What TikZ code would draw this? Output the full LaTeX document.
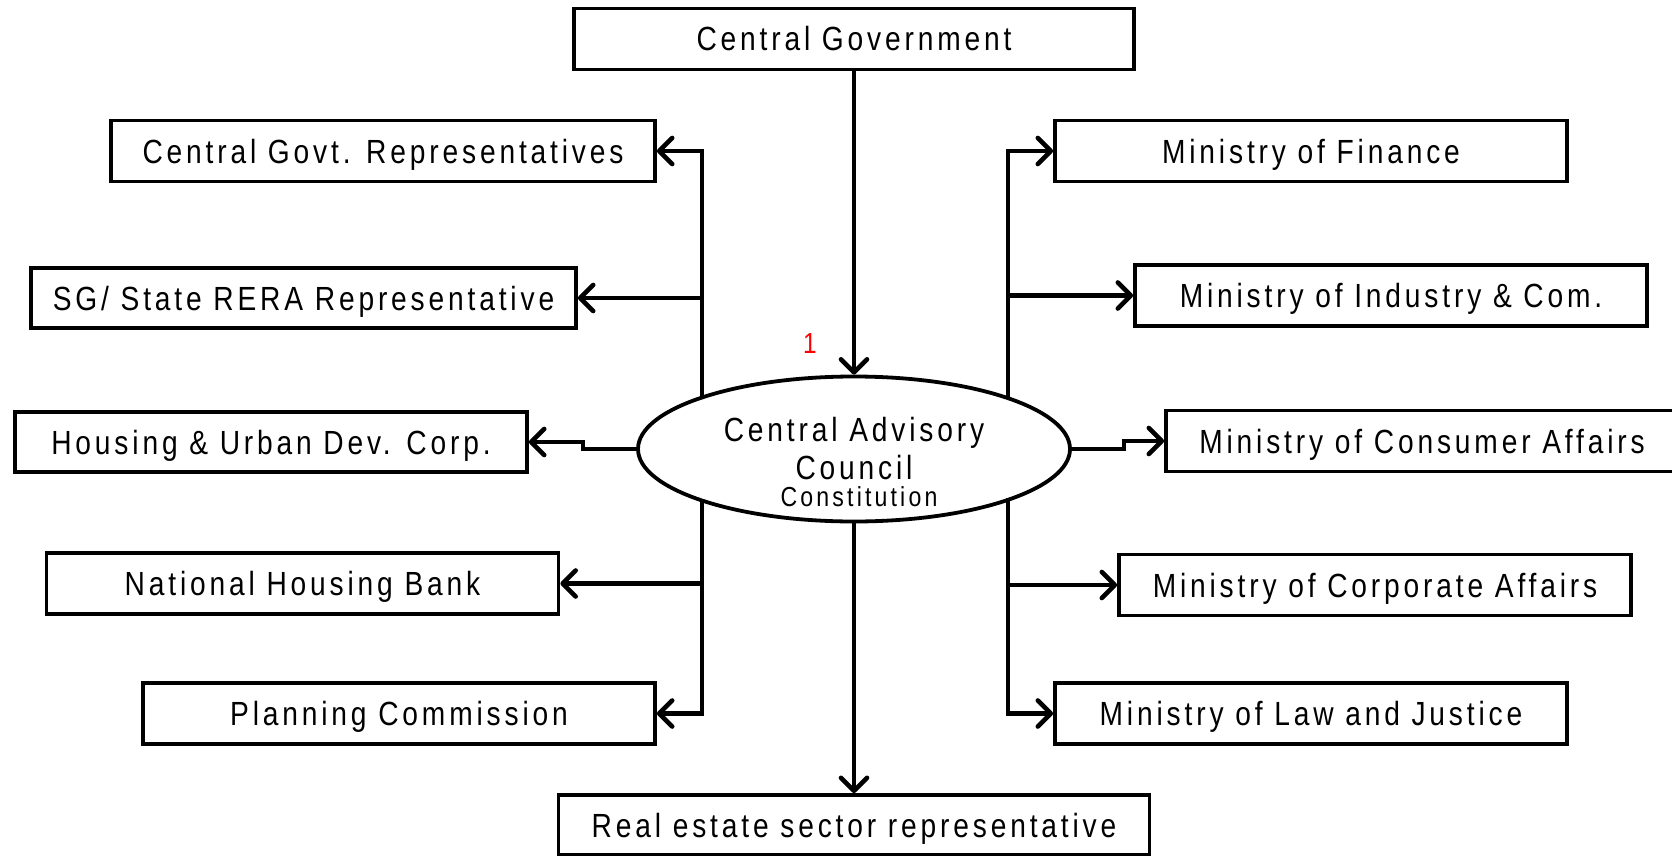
\documentclass[tikz,border=0pt]{standalone}
\usepackage{fontspec}
\setmainfont{Liberation Sans}[FakeStretch=0.84,LetterSpace=11.5]
\usetikzlibrary{arrows.meta,shapes.geometric}
\begin{document}
\begin{tikzpicture}[x=1pt,y=-1pt,
  box/.style={draw, line width=3.8pt, minimum width=512pt, minimum height=61pt, inner sep=0pt,
    font=\fontsize{33.5}{37}\selectfont, text height=24pt, text depth=0pt},
  conn/.style={line width=4.6pt, -{Straight Barb[length=13pt,width=26pt,line cap=round,line join=round]}}]
\useasboundingbox (0,0) rectangle (1672,856);
\node[box, minimum width=560pt] (cg) at (854,39) {Central Government};
\node[box, minimum width=544pt] (cgr) at (383,151) {Central Govt. Representatives};
\node[box, minimum width=545pt, minimum height=60pt] (sg) at (303.5,298) {SG/ State RERA Representative};
\node[box, minimum height=60pt] (hu) at (271,442) {Housing \& Urban Dev. Corp.};
\node[box] (nhb) at (302.5,583.5) {National Housing Bank};
\node[box] (pc) at (399,713.5) {Planning Commission};
\node[box, minimum width=591pt, minimum height=60pt] (re) at (854,825) {Real estate sector representative};
\node[box] (mf) at (1311,151) {Ministry of Finance};
\node[box] (mi) at (1391,295.5) {Ministry of Industry \& Com.};
\node[box] (mca) at (1422,441) {Ministry of Consumer Affairs};
\node[box] (mco) at (1375,585) {Ministry of Corporate Affairs};
\node[box] (ml) at (1311,713.5) {Ministry of Law and Justice};
\node[ellipse, draw, line width=3.8pt, minimum width=432pt, minimum height=145pt, inner sep=0pt,
  align=center, font=\fontsize{33.5}{38}\selectfont] (cac) at (854,449) {Central Advisory\\Council};
\node[font=\fontsize{27.5}{30}\selectfont, text height=19.7pt, text depth=0pt, inner sep=0pt] (con) at (859,497) {Constitution};
\node[text=red, font=\fontsize{29}{32}\selectfont, inner sep=0pt, text height=20.8pt, text depth=0pt] (one) at (810,343) {1};
\coordinate (lt) at (702,397);
\coordinate (lb) at (702,499);
\coordinate (rt) at (1008,398);
\coordinate (rb) at (1008,498);
\draw[conn] (cg) -- (cac);
\draw[conn] (cac) -- (re);
\draw[conn] (lt) |- (cgr.east);
\draw[conn] (lt |- sg.east) -- (sg.east);
\draw[conn] (lb) |- (pc.east);
\draw[conn] (lb |- nhb.east) -- (nhb.east);
\draw[conn] (rt) |- (mf.west);
\draw[conn] (rt |- mi.west) -- (mi.west);
\draw[conn] (rb) |- (ml.west);
\draw[conn] (rb |- mco.west) -- (mco.west);
\draw[conn] (cac.west) -- ++(-53,0) |- (hu.east);
\draw[conn] (cac.east) -- ++(52,0) |- (mca.west);
\end{tikzpicture}
\end{document}
